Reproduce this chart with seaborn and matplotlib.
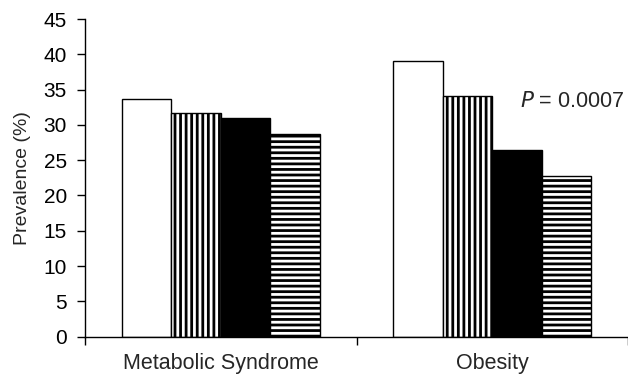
import matplotlib
matplotlib.use("Agg")
import matplotlib.pyplot as plt
import seaborn as sns
import pandas as pd

categories = ["Metabolic Syndrome", "Obesity"]
groups = ["G1", "G2", "G3", "G4"]
ms_values = [33.6, 31.7, 31.0, 28.7]
ob_values = [39.1, 34.1, 26.4, 22.7]
y_ticks = [0, 5, 10, 15, 20, 25, 30, 35, 40, 45]
p_text = "= 0.0007"

rows = []
for cat, vals in zip(categories, [ms_values, ob_values]):
    for g, v in zip(groups, vals):
        rows.append({"cat": cat, "grp": g, "val": v})
df = pd.DataFrame(rows)

sns.set_style("ticks")
plt.rcParams["font.family"] = ["Liberation Sans", "DejaVu Sans"]
plt.rcParams["hatch.linewidth"] = 2.0

fig = plt.figure(figsize=(6.28, 3.77), dpi=100)
ax = fig.add_axes([0.1354, 0.1069, 0.8646, 0.8427])

palette = {"G1": "white", "G2": "white", "G3": "black", "G4": "white"}
sns.barplot(data=df, x="cat", y="val", hue="grp", order=categories,
            hue_order=groups, palette=palette, width=0.73,
            edgecolor="black", linewidth=1.0, legend=False, ax=ax,
            saturation=1)

hatches = ["", "|||", "", "---"]
for cont, h in zip(ax.containers, hatches):
    for bar in cont:
        bar.set_hatch(h)
        bar.set_edgecolor("black")

ax.set_xlim(-0.5, 1.5)
ax.set_ylim(0, 45)
ax.set_yticks(y_ticks)
ax.tick_params(axis="y", labelsize=15, length=6, width=1, pad=7,
               direction="out", colors="black")
ax.set_xticks([0, 1])
ax.set_xticklabels(categories, fontsize=15.5)
ax.tick_params(axis="x", length=0, pad=12)
ax.set_xticks([-0.5, 0.5, 1.5], minor=True)
ax.tick_params(axis="x", which="minor", length=6, width=1, direction="out", color="black")
ax.set_xlabel("")
ax.set_ylabel("Prevalence (%)", fontsize=14, labelpad=9)

for s in ["top", "right"]:
    ax.spines[s].set_visible(False)
for s in ["left", "bottom"]:
    ax.spines[s].set_color("black")
    ax.spines[s].set_linewidth(1.0)

ax.text(1.104, 33.3, r"$\it{P}$ " + p_text, fontsize=15.5, ha="left", va="center")

fig.savefig("out.png", dpi=100)
